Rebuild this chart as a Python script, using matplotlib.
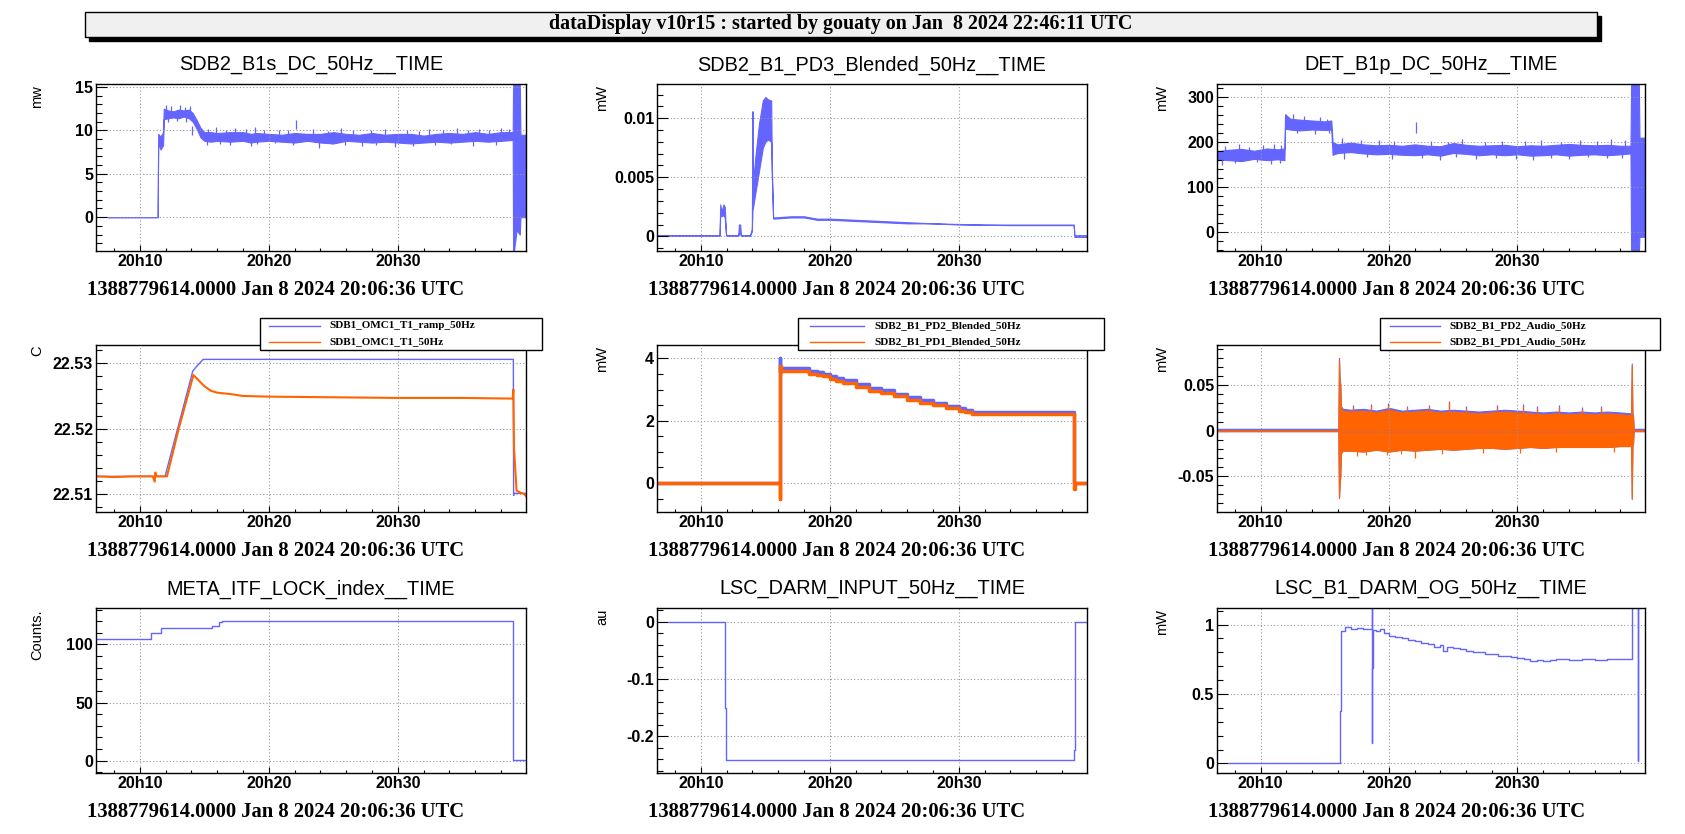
import matplotlib
matplotlib.use('Agg')
import matplotlib.pyplot as plt
from matplotlib.patches import Rectangle
from matplotlib.lines import Line2D
from matplotlib.ticker import MultipleLocator, FuncFormatter, FormatStrFormatter

plt.rcParams['font.family'] = ['Liberation Sans', 'DejaVu Sans']
plt.rcParams['font.weight'] = 'bold'

W, H = 1685, 834
BLUE = '#6464ff'
ORANGE = '#ff6400'

HEADER = 'dataDisplay v10r15 : started by gouaty on Jan  8 2024 22:46:11 UTC'
STAMP = '1388779614.0000 Jan 8 2024 20:06:36 UTC'
T0, T1 = 6.6, 39.93   # minutes after 20h00

# --- SDB2_B1s_DC_50Hz (noise band lo/hi + spikes, mw)
p1_t = [7.5, 11.38, 11.42, 11.6, 11.8, 11.85, 12.2, 12.6, 13.0, 13.4, 13.8, 14.1, 14.4, 14.7, 15.0,
        15.5, 16.0, 17.0, 18.0, 18.6, 19.0, 20.0, 21.0, 22.0, 23.0, 24.0, 25.0, 26.0, 27.0, 28.0,
        29.0, 30.0, 31.0, 32.0, 33.0, 34.0, 35.0, 36.0, 37.0, 38.0, 38.9,
        38.93, 39.0, 39.2, 39.45, 39.5, 39.93]
p1_lo = [0, 0, 8.6, 7.8, 8.3, 11.3, 11.4, 11.5, 11.4, 11.6, 11.4, 11.0, 10.2, 9.2, 8.8,
         8.7, 8.8, 8.7, 8.8, 8.6, 8.7, 8.8, 8.7, 8.6, 8.8, 8.6, 8.5, 8.8, 8.7, 8.6,
         8.7, 8.6, 8.5, 8.6, 8.7, 8.6, 8.7, 8.8, 8.7, 8.8, 8.9,
         -3.9, -3.9, -1.5, -2.0, 0, 0]
p1_hi = [0, 0, 9.6, 9.3, 9.8, 12.5, 12.3, 12.2, 12.4, 12.3, 12.4, 12.0, 11.2, 10.3, 9.8,
         9.8, 9.7, 9.8, 9.8, 9.6, 9.7, 9.6, 9.5, 9.7, 9.6, 9.6, 9.8, 9.6, 9.5, 9.7,
         9.5, 9.6, 9.6, 9.4, 9.6, 9.7, 9.6, 9.8, 9.6, 9.8, 9.8,
         15.4, 15.4, 15.4, 15.4, 9.5, 9.5]
p1_up_t = [12.0, 12.4, 13.1, 13.5, 13.9, 15.3, 15.9, 16.7, 17.4, 18.2, 18.9, 19.6, 20.8, 21.5,
           22.1, 23.4, 24.6, 25.6, 26.5, 27.9, 29.0, 30.7, 31.6, 32.4, 33.5, 34.6, 35.4, 36.3,
           37.1, 38.0, 38.6]
p1_up_v = [12.95, 12.8, 12.9, 12.7, 12.8, 10.2, 10.4, 10.1, 10.3, 10.2, 10.4, 10.0, 10.1, 10.0,
           11.2, 10.2, 9.9, 10.3, 10.1, 10.0, 10.2, 10.1, 9.9, 10.2, 10.1, 10.3, 10.0, 10.2,
           10.1, 10.3, 10.2]
p1_dn_t = [12.2, 12.9, 13.6, 14.05, 15.2, 16.2, 17.0, 18.6, 19.1, 20.5, 21.9, 23.9, 24.9, 25.9,
           27.2, 28.3, 29.8, 31.2, 32.9, 34.1, 35.8, 37.6]
p1_dn_v = [11.0, 11.1, 11.0, 9.5, 8.3, 8.4, 8.3, 8.2, 8.4, 8.5, 8.3, 8.0, 8.4, 8.3,
           8.2, 8.3, 8.1, 8.2, 8.3, 8.4, 8.2, 8.3]

# --- SDB2_B1_PD3_Blended_50Hz (band lo/hi, mW)
p2_t = [6.6, 11.45, 11.5, 11.6, 11.75, 11.85, 11.95, 12.0, 12.9, 12.95, 13.05, 13.1, 13.8, 13.95,
        14.0, 14.05, 14.2, 14.5, 14.8, 15.0, 15.2, 15.45, 15.5, 15.6, 17.0, 18.0, 19.0, 20.0,
        22.0, 24.0, 26.0, 28.0, 30.0, 32.0, 34.0, 36.0, 38.9, 38.95, 40.0]
p2_lo = [0.00005, 0.00005, 0.0018, 0.0017, 0.0018, 0.0016, 0.0001, 0.00005, 0.00005, 0.0003,
         0.0003, 0.00005, 0.00005, 0.0004, 0.0022, 0.0025, 0.0035, 0.0055, 0.0075, 0.008, 0.0082,
         0.008, 0.005, 0.0015, 0.0016, 0.0016, 0.0014, 0.0014, 0.0013, 0.0012, 0.0011, 0.0011,
         0.001, 0.00098, 0.00095, 0.00095, 0.00095, -0.00005, -0.00005]
p2_hi = [0.0001, 0.0001, 0.0027, 0.0021, 0.0027, 0.0025, 0.0002, 0.0001, 0.0001, 0.001,
         0.001, 0.0001, 0.0001, 0.0006, 0.0106, 0.0045, 0.0065, 0.0095, 0.0115, 0.0118, 0.0116,
         0.0115, 0.006, 0.0016, 0.0017, 0.0017, 0.0015, 0.0015, 0.0014, 0.0013, 0.0012, 0.0011,
         0.00105, 0.001, 0.001, 0.001, 0.001, 0.0001, 0.0001]

# --- DET_B1p_DC_50Hz (noise band lo/hi + spikes, mW)
p3_t = [6.6, 7.5, 8.5, 9.5, 10.5, 11.3, 11.85, 11.9, 12.3, 13.0, 14.0, 15.0, 15.5, 15.6, 16.0,
        17.0, 18.0, 19.0, 20.0, 21.0, 22.0, 23.0, 24.0, 25.0, 26.0, 27.0, 28.0, 29.0, 30.0,
        31.0, 32.0, 33.0, 34.0, 35.0, 36.0, 37.0, 38.0, 38.8, 38.85, 39.45, 39.5, 39.93]
p3_lo = [162, 160, 158, 163, 160, 162, 160, 230, 228, 226, 228, 227, 228, 172, 176,
         178, 175, 173, 174, 172, 171, 173, 170, 176, 174, 171, 173, 171, 173,
         170, 171, 173, 170, 172, 173, 171, 173, 175, -42, -42, -10, -10]
p3_hi = [180, 183, 185, 181, 186, 184, 186, 262, 252, 250, 248, 246, 248, 200, 195,
         199, 195, 193, 194, 192, 195, 192, 191, 198, 194, 192, 193, 194, 191,
         193, 192, 194, 196, 194, 193, 194, 192, 192, 330, 330, 210, 210]
p3_up_t = [7.2, 8.3, 9.1, 10.2, 11.0, 11.6, 12.5, 13.4, 14.6, 15.2, 16.3, 17.8, 19.2, 20.4,
           22.08, 23.3, 24.6, 25.7, 27.5, 28.8, 30.6, 31.8, 33.4, 34.9, 36.2, 37.3, 38.4]
p3_up_v = [192, 195, 190, 193, 196, 194, 262, 258, 256, 252, 210, 205, 204, 202,
           245, 203, 200, 206, 201, 203, 202, 204, 200, 205, 203, 206, 204]
p3_dn_t = [7.0, 8.0, 9.7, 10.8, 11.5, 12.8, 14.2, 15.3, 16.5, 18.3, 20.2, 22.6, 24.0, 25.2,
           26.8, 28.3, 29.9, 31.2, 32.6, 34.0, 35.5, 37.0, 38.1]
p3_dn_v = [150, 153, 155, 152, 153, 220, 218, 220, 163, 166, 162, 165, 160, 166,
           163, 164, 162, 160, 165, 163, 166, 164, 165]

# --- SDB1_OMC1_T1 (C)
p4_ramp_t = [6.6, 11.95, 14.1, 14.3, 14.9, 38.95, 38.97, 39.0, 40.0]
p4_ramp_v = [22.5127, 22.5127, 22.5288, 22.5293, 22.5306, 22.5306, 22.5098, 22.5101, 22.5101]
p4_t1_t = [6.6, 8.0, 9.5, 11.0, 11.15, 11.2, 11.3, 12.1, 13.0, 14.15, 14.5, 15.0, 15.5, 16.0,
           17.0, 18.0, 20.0, 25.0, 30.0, 35.0, 38.9, 38.95, 39.0, 39.2, 39.5, 39.8, 40.0]
p4_t1_v = [22.5127, 22.5126, 22.5127, 22.5127, 22.5119, 22.5133, 22.5127, 22.5127, 22.5199,
           22.5282, 22.5275, 22.5265, 22.5258, 22.5255, 22.5253, 22.5250, 22.5249, 22.5248,
           22.5247, 22.5247, 22.5246, 22.5260, 22.5171, 22.5105, 22.5102, 22.5100, 22.5095]

# --- SDB2_B1_PD2/PD1_Blended (mW)
p5_t = [6.6, 16.08, 16.1, 16.12, 16.2, 18.3, 18.4, 19.0, 19.5, 20.0, 20.5, 21.0, 22.0, 23.0,
        24.0, 25.0, 26.0, 27.0, 28.0, 29.0, 30.0, 30.5, 31.0, 38.9, 38.93, 38.96, 38.98, 40.0]
p5_pd2 = [0, 0, 4.0, 3.55, 3.68, 3.68, 3.6, 3.57, 3.5, 3.42, 3.37, 3.3, 3.17, 3.05,
          2.97, 2.87, 2.76, 2.67, 2.58, 2.48, 2.4, 2.35, 2.29, 2.28, 2.28, 0, 0, 0]
p5_pd1 = [0, 0, -0.5, 3.75, 3.58, 3.58, 3.5, 3.48, 3.42, 3.33, 3.28, 3.21, 3.08, 2.96,
          2.88, 2.78, 2.67, 2.58, 2.5, 2.4, 2.32, 2.27, 2.21, 2.2, 2.2, -0.2, 0, 0]

# --- SDB2_B1_PD2/PD1_Audio (band lo/hi + spikes, mW)
p6_t = [6.6, 16.05, 16.1, 16.15, 16.2, 16.25, 16.4, 17, 18, 19, 20, 21, 22, 23, 24, 25, 26,
        27, 28, 29, 30, 31, 32, 33, 34, 35, 36, 37, 38, 38.85, 38.9, 38.95, 39.0, 39.05, 40.0]
p6_hi = [0, 0, 0.078, 0.055, 0.05, 0.025, 0.022, 0.021, 0.022, 0.02, 0.023, 0.02, 0.021,
         0.022, 0.02, 0.021, 0.02, 0.019, 0.02, 0.021, 0.02, 0.019, 0.018, 0.019, 0.018,
         0.019, 0.018, 0.019, 0.018, 0.017, 0.072, 0.017, 0.015, 0, 0]
p6_lo = [0, 0, -0.074, -0.06, -0.05, -0.025, -0.022, -0.022, -0.023, -0.021, -0.023, -0.021,
         -0.022, -0.021, -0.02, -0.021, -0.02, -0.019, -0.019, -0.02, -0.019, -0.018, -0.019,
         -0.018, -0.018, -0.018, -0.018, -0.018, -0.017, -0.017, -0.075, -0.016, -0.014, 0, 0]
p6_up_t = [17.2, 18.6, 19.9, 21.4, 23.1, 24.7, 26.0, 28.4, 30.4, 31.5, 33.2, 35.0, 36.5]
p6_up_v = [0.026, 0.027, 0.028, 0.025, 0.026, 0.031, 0.025, 0.026, 0.027, 0.025, 0.026, 0.024, 0.025]
p6_dn_t = [17.5, 18.2, 19.8, 20.9, 22.0, 24.1, 27.3, 30.2, 33.0, 37.5]
p6_dn_v = [-0.028, -0.027, -0.027, -0.026, -0.030, -0.026, -0.025, -0.025, -0.024, -0.024]

# --- META_ITF_LOCK_index (Counts.)
p7_t = [6.6, 10.83, 11.63, 15.57, 16.1, 16.37, 38.95, 40.0]
p7_v = [105, 110, 114, 116, 119, 120, 1, 1]

# --- LSC_DARM_INPUT_50Hz (au)
p8_t = [7.5, 11.86, 11.86, 11.92, 11.92, 38.93, 38.93, 38.98, 38.98, 40.0]
p8_v = [0, 0, -0.15, -0.15, -0.242, -0.242, -0.225, -0.225, 0, 0]

# --- LSC_B1_DARM_OG_50Hz (mW)
p9_t = [7.5, 16.17, 16.18, 16.22, 16.25, 16.6, 17.0, 17.5, 18.0, 18.6, 18.65, 18.67, 18.69,
        18.72, 19.0, 19.3, 19.6, 20.0, 20.5, 21.0, 21.5, 22.0, 22.5, 23.0, 23.5, 24.0, 24.2,
        24.5, 25.0, 25.5, 26.0, 26.5, 27.0, 27.5, 28.0, 28.5, 29.0, 29.5, 30.0, 30.5, 31.0,
        31.5, 32.0, 32.5, 33.0, 34.0, 35.0, 36.0, 37.0, 38.0, 38.9, 38.93, 39.3, 39.35, 39.38,
        39.93]
p9_v = [0, 0, 0.38, 0.38, 0.95, 0.98, 0.97, 0.975, 0.97, 0.965, 1.2, 0.15, 0.69,
        0.96, 0.955, 0.965, 0.94, 0.92, 0.91, 0.9, 0.89, 0.88, 0.87, 0.86, 0.84, 0.85, 0.81,
        0.835, 0.83, 0.825, 0.81, 0.8, 0.8, 0.79, 0.785, 0.775, 0.77, 0.765, 0.76, 0.75, 0.74,
        0.745, 0.74, 0.745, 0.75, 0.745, 0.75, 0.745, 0.75, 0.755, 0.75, 1.2, 1.2, 0.02, 1.2,
        1.2]

# layout in pixels
COLS = [(96, 526), (657, 1087), (1217, 1645)]
ROWS = [(84, 251), (345, 512), (608, 773)]
YLABEL_X = [37, 602, 1162]


def fx(x):
    return x / W


def fy(y):
    return 1 - y / H


fig = plt.figure(figsize=(W / 100, H / 100), dpi=100)


def make_ax(r, c, ylim, yticks, yminor, ylabel, title=None):
    x0, x1 = COLS[c]
    y0, y1 = ROWS[r]
    ax = fig.add_axes([fx(x0), fy(y1), (x1 - x0) / W, (y1 - y0) / H])
    ax.set_xlim(T0, T1)
    ax.set_ylim(*ylim)
    ax.xaxis.set_major_locator(MultipleLocator(10))
    ax.xaxis.set_minor_locator(MultipleLocator(2))
    ax.xaxis.set_major_formatter(FuncFormatter(lambda v, p: f'20h{int(round(v)):02d}'))
    ax.set_yticks(yticks)
    ax.yaxis.set_minor_locator(MultipleLocator(yminor))
    ax.yaxis.set_major_formatter(FormatStrFormatter('%g'))
    ax.tick_params(axis='both', which='both', direction='in', labelsize=11.5,
                   top=False, right=False, width=0.8)
    ax.tick_params(axis='y', which='major', length=8, pad=2)
    ax.tick_params(axis='y', which='minor', length=4)
    ax.tick_params(axis='x', which='major', length=4.5, pad=2.5)
    ax.tick_params(axis='x', which='minor', length=2.3)
    ax.grid(True, which='major', color='#999999', linestyle=(0, (1, 2)), linewidth=0.8)
    for s in ax.spines.values():
        s.set_linewidth(1.0)
    fig.text(fx(YLABEL_X[c]), fy(y0 + 1), ylabel, rotation=90, ha='center', va='top',
             fontsize=10.5, fontweight='normal')
    if title:
        fig.text(fx((x0 + x1) / 2), fy(y0 - 19), title, ha='center', va='center',
                 fontsize=14.3, fontweight='normal')
    fig.text(fx(x0 - 9), fy(y1 + 39), STAMP, ha='left', va='center', fontsize=14.9,
             family=['Liberation Serif'], fontweight='bold')
    return ax


def band(ax, t, lo, hi, color):
    ax.fill_between(t, lo, hi, color=color, edgecolor=color, linewidth=0.8)


def spikes(ax, up_t, up_v, dn_t, dn_v, depth, color):
    ax.vlines(up_t, [v - depth for v in up_v], up_v, color=color, linewidth=0.9)
    ax.vlines(dn_t, dn_v, [v + depth for v in dn_v], color=color, linewidth=0.9)


def root_legend(ax, box, sample_x, text_x):
    x0, y0, x1, y1 = box
    fig.add_artist(Rectangle((fx(x0), fy(y1)), (x1 - x0) / W, (y1 - y0) / H,
                             transform=fig.transFigure, facecolor='white',
                             edgecolor='black', linewidth=1.0, zorder=10))
    rows = [y0 + 8, y0 + 24]
    for h, yy in zip(ax.get_lines(), rows):
        fig.add_artist(Line2D([fx(sample_x[0]), fx(sample_x[1])], [fy(yy), fy(yy)],
                              transform=fig.transFigure, color=h.get_color(),
                              linewidth=1.0, zorder=11))
        fig.text(fx(text_x), fy(yy), h.get_label(), ha='left', va='center', fontsize=8,
                 family=['Liberation Serif'], fontweight='bold', zorder=11)


# header box
fig.add_artist(Rectangle((fx(89), fy(41)), (1601 - 89) / W, (41 - 16) / H,
                         transform=fig.transFigure, facecolor='black', edgecolor='black', zorder=1))
fig.add_artist(Rectangle((fx(85), fy(37)), (1597 - 85) / W, (37 - 12) / H,
                         transform=fig.transFigure, facecolor='#f0f0f0', edgecolor='black',
                         linewidth=1.0, zorder=2))
fig.text(fx(841), fy(24.5), HEADER, ha='center', va='center', fontsize=14.4,
         family=['Liberation Serif'], fontweight='bold', zorder=3)

# row 1
ax = make_ax(0, 0, (-3.9, 15.35), [0, 5, 10, 15], 1, 'mw', 'SDB2_B1s_DC_50Hz__TIME')
band(ax, p1_t, p1_lo, p1_hi, BLUE)
spikes(ax, p1_up_t, p1_up_v, p1_dn_t, p1_dn_v, 1.0, BLUE)

ax = make_ax(0, 1, (-0.00124, 0.0129), [0, 0.005, 0.01], 0.001, 'mW', 'SDB2_B1_PD3_Blended_50Hz__TIME')
band(ax, p2_t, p2_lo, p2_hi, BLUE)

ax = make_ax(0, 2, (-41.5, 329), [0, 100, 200, 300], 20, 'mW', 'DET_B1p_DC_50Hz__TIME')
band(ax, p3_t, p3_lo, p3_hi, BLUE)
spikes(ax, p3_up_t, p3_up_v, p3_dn_t, p3_dn_v, 25, BLUE)

# row 2
ax = make_ax(1, 0, (22.50725, 22.5328), [22.51, 22.52, 22.53], 0.002, 'C')
ax.plot(p4_ramp_t, p4_ramp_v, color=BLUE, linewidth=1.0, label='SDB1_OMC1_T1_ramp_50Hz')
ax.plot(p4_t1_t, p4_t1_v, color=ORANGE, linewidth=1.5, label='SDB1_OMC1_T1_50Hz')
root_legend(ax, (260, 318, 542, 350), (269, 320), 329)

ax = make_ax(1, 1, (-0.93, 4.43), [0, 2, 4], 0.5, 'mW')
ax.plot(p5_t, p5_pd2, color=BLUE, linewidth=2.5, drawstyle='steps-post',
        label='SDB2_B1_PD2_Blended_50Hz')
ax.plot(p5_t, p5_pd1, color=ORANGE, linewidth=2.5, drawstyle='steps-post',
        label='SDB2_B1_PD1_Blended_50Hz')
root_legend(ax, (798, 318, 1104, 350), (810, 864), 874)

ax = make_ax(1, 2, (-0.0896, 0.0943), [-0.05, 0, 0.05], 0.01, 'mW')
ax.plot(p6_t, [0] * len(p6_t), color=BLUE, linewidth=1.0, label='SDB2_B1_PD2_Audio_50Hz')
ax.plot(p6_t, [0] * len(p6_t), color=ORANGE, linewidth=1.0, label='SDB2_B1_PD1_Audio_50Hz')
# PD2 peeks out just above PD1
ax.fill_between(p6_t, p6_lo, [h + 0.002 for h in p6_hi], color=BLUE, linewidth=0.8,
                edgecolor=BLUE, zorder=1)
ax.vlines(p6_up_t, [v - 0.01 for v in p6_up_v], [v + 0.002 for v in p6_up_v], color=BLUE,
          linewidth=0.9, zorder=1)
ax.fill_between(p6_t, p6_lo, p6_hi, color=ORANGE, linewidth=0.8, edgecolor=ORANGE, zorder=1.5)
ax.vlines(p6_up_t, [v - 0.01 for v in p6_up_v], p6_up_v, color=ORANGE, linewidth=0.9, zorder=1.6)
ax.vlines(p6_dn_t, p6_dn_v, [v + 0.01 for v in p6_dn_v], color=ORANGE, linewidth=0.9, zorder=1.6)
root_legend(ax, (1380, 318, 1660, 350), (1390, 1440), 1449)

# row 3
ax = make_ax(2, 0, (-10.6, 131.4), [0, 50, 100], 10, 'Counts.', 'META_ITF_LOCK_index__TIME')
ax.step(p7_t, p7_v, where='post', color=BLUE, linewidth=1.0)

ax = make_ax(2, 1, (-0.2643, 0.0238), [-0.2, -0.1, 0], 0.02, 'au', 'LSC_DARM_INPUT_50Hz__TIME')
ax.plot(p8_t, p8_v, color=BLUE, linewidth=1.0)

ax = make_ax(2, 2, (-0.069, 1.119), [0, 0.5, 1], 0.1, 'mW', 'LSC_B1_DARM_OG_50Hz__TIME')
ax.plot(p9_t, p9_v, color=BLUE, linewidth=1.0, drawstyle='steps-post')

fig.savefig('out.png', dpi=100)
